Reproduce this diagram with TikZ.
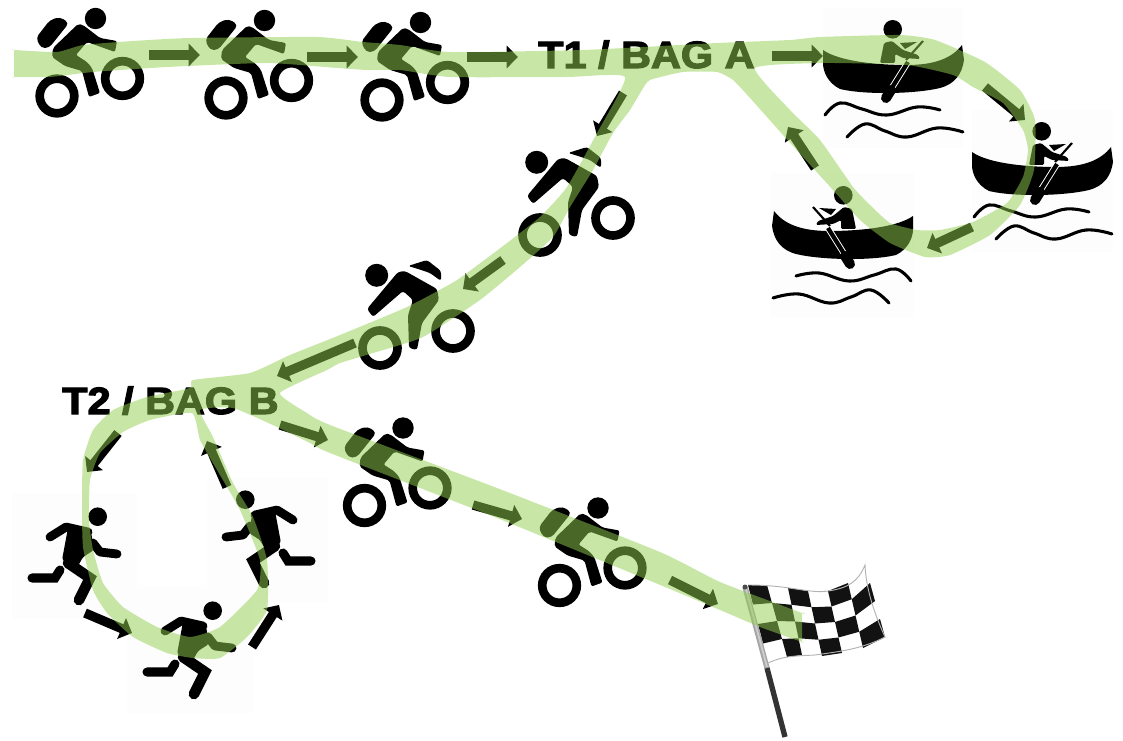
\documentclass[tikz,border=0pt]{standalone}
\usepackage{fontspec}
\setmainfont{Liberation Sans}
\usetikzlibrary{arrows.meta}
\definecolor{bandgreen}{RGB}{146,208,80}
\definecolor{faintbox}{RGB}{253,253,253}
\newfontfamily\labelfont[FakeBold=3]{Liberation Sans Bold}
\tikzset{
  band/.style={fill=bandgreen,fill opacity=.5,even odd rule},
  blockarrow/.style={line width=7pt,draw=black,-{Triangle[length=8.5pt,width=16.5pt]}},
  ring/.style={draw=black,line width=6.5pt},
  limb/.style={draw=black,line width=6.8pt,line cap=round,line join=round},
  limbthick/.style={draw=black,line width=8pt,line cap=round,line join=round},
  wave/.style={draw=black,line width=2.3pt,line cap=round},
  paddle/.style={draw=black,line width=3.2pt},
  labeltext/.style={anchor=base west,inner sep=0pt,text=black},
  faint/.style={fill=faintbox},
  biker/.pic={
    \fill (95.5,18.5) circle[radius=10.7];
    \fill[rounded corners=3pt] (36,38)--(50,20)--(60,17)--(69,23)--(49,48)--(41,48)--cycle;
    \fill[rounded corners=1.5pt] (78,24)--(53,48)--(52,57)--(65,66)--(82,71)--(89,97)--(100,93)--(92,68)--(87,62)--(76,55)--(87,42)--(115,52)--(117,41)--(100,38)--(83,25)--cycle;
    \draw[ring] (57,96) circle[radius=17.3];
    \draw[ring] (122.5,78.5) circle[radius=17.3];
  },
  leanbiker/.pic={
    \fill (536.7,162.3) circle[radius=11.5];
    \fill[rounded corners=2pt] (568,153)--(587,147)--(601,158)--(601,168)--(590,160)--(575,155)--cycle;
    \fill[rounded corners=2pt] (558,159)--(527,196)--(533,204)--(563,178)--(573,187)--(568,202)--(569,235)--(577,237)--(582,210)--(599,187)--(597,176)--(565,158)--cycle;
    \draw[ring] (540,235) circle[radius=17.5];
    \draw[ring] (613,218) circle[radius=17.5];
  },
  canoe/.pic={
    \fill (892.7,29.3) circle[radius=9.3];
    \fill[rounded corners=1pt] (880,63)--(884,43)--(892,41)--(903,50)--(918,55)--(920,59)--(903,58)--(895,54)--(895,63)--cycle;
    \fill (900,43)--(917,42)--(905,49)--cycle;
    \draw[paddle,line width=1.6pt] (923,41)--(906,60);
    \fill (823,50) .. controls (840,62) and (880,65) .. (907,65) .. controls (935,65) and (952,58) .. (962,45)
      -- (964,60) .. controls (962,74) and (955,84) .. (940,88) .. controls (915,94) and (865,95) .. (840,89)
      .. controls (828,83) and (823,72) .. (823,63) -- cycle;
    \draw[white,line width=4.6pt] (908,62)--(888,94);
    \draw[paddle] (908,62)--(888,94);
    \draw[black,line width=7.5pt,line cap=round] (891,90)--(886,98);
    \draw[wave] plot[smooth,tension=.7] coordinates {(825,115) (840,103) (862,109) (887,115) (917,107) (940,110)};
    \draw[wave] plot[smooth,tension=.7] coordinates {(847,137) (865,124) (885,131) (907,137) (937,128) (963,132)};
  },
  runner/.pic={
    \fill (97.7,516.7) circle[radius=9.3];
    \draw[limb,line width=6.6pt] (50,537)--(66,527)--(88,532);
    \draw[limb,line width=6.6pt] (93,543)--(100,552)--(117,554);
    \fill[rounded corners=2pt] (68,528)--(91,532)--(94,550)--(83,557)--(78,566)--(62,560)--cycle;
    \draw[limbthick,line join=miter] (68,563)--(90,578)--(79,600);
    \draw[limb,line join=miter] (60,570)--(55,578)--(32,578);
  }
}
\begin{document}
\begin{tikzpicture}[x=0.75pt,y=-0.75pt]
\useasboundingbox (0,0) rectangle (1123,741);

% faint image backgrounds
\fill[faint] (823,8) rectangle (963,148);
\fill[faint] (972,110) rectangle (1113,252);
\fill[faint] (771,173) rectangle (914,318);
\fill[faint] (12,493) rectangle (137,619);
\fill[faint] (127,587) rectangle (253,713);
\fill[faint] (207,478) rectangle (328,602);

% bikers
\pic at (0,0) {biker};
\pic at (169,2) {biker};
\pic at (325,4) {biker};
\pic at (307.5,409.5) {biker};
\pic at (502.5,489.5) {biker};
\pic at (0,0) {leanbiker};
\pic at (-160,113) {leanbiker};

% canoes
\pic at (0,0) {canoe};
\pic at (149,102) {canoe};
\begin{scope}[shift={(1736,166)},xscale=-1]
  \pic[transform shape] at (0,0) {canoe};
\end{scope}

% runners
\pic at (0,0) {runner};
\pic at (115,94) {runner};
\begin{scope}[shift={(343,-17)},xscale=-1]
  \pic[transform shape] at (0,0) {runner};
\end{scope}

% flag
\def\tx{{748,767,788,808,828,848,865}}
\def\ty{{585,585,588,591,591,583,565}}
\def\bx{{768,787,802,822,842,863,885}}
\def\by{{663,657,655,656,653,648,637}}
\def\fp#1#2{({\tx[#1]+(\bx[#1]-\tx[#1])*(#2)/4},{\ty[#1]+(\by[#1]-\ty[#1])*(#2)/4})}
\foreach \i in {0,...,5}{
  \foreach \j in {0,...,3}{
    \pgfmathparse{int(mod(\i+\j,2))}
    \ifnum\pgfmathresult=0
      \fill[black!93] \fp{\i}{\j} -- \fp{\i+1}{\j} -- \fp{\i+1}{\j+1} -- \fp{\i}{\j+1} -- cycle;
    \fi
  }
}
\draw[black!30,line width=.7pt] (748,585) .. controls (790,585) and (810,594) .. (828,591) .. controls (848,588) and (858,582) .. (865,565)
  .. controls (866,590) and (875,615) .. (885,637) .. controls (860,650) and (835,652) .. (815,655) .. controls (800,656) and (785,655) .. (768,663);
\draw[black!35,line width=4pt] (745,587) -- (767,668);
\draw[white!80!black,line width=1.4pt] (746,589) -- (767,667);
\draw[black!80,line width=4pt] (767,668) -- (785,737);
\fill[black!70] (745,587) circle[radius=2.5];

% arrows
\foreach \n/\xa/\ya/\xb/\yb in {1/149/55/200/55,2/307/57/358/57,3/467/57/518/57,4/772/56/823/56,
  5/985/87/1025/120,6/972/227/927/248,7/815/168/788/127,8/623/93/597/136,9/503/260/463/289,
  10/355/343/277/376,11/280/425/328/440,12/473/505/522/519,13/670/580/718/604,
  14/118/433/87/472,15/85/613/132/633,16/252/647/279/605,17/227/487/207/441}{
  \coordinate (a\n s) at (\xa,\ya);
  \coordinate (a\n e) at (\xb,\yb);
  \draw[blockarrow] (a\n s) -- (a\n e);
}

% labels
\node[labeltext] (t1) at (538,68) {\labelfont\fontsize{28.5pt}{31pt}\selectfont\scalebox{1.09}[1]{T1 / BAG A}};
\node[labeltext] (t2) at (62,414) {\labelfont\fontsize{28.5pt}{31pt}\selectfont\scalebox{1.09}[1]{T2 / BAG B}};

% translucent band
\fill[band] plot[smooth cycle,tension=.3] coordinates {
 (14,50) (14,50) (57,52) (83,45) (133,41) (190,38) (317,37) (363,42) (400,45) (450,52) (583,50) (717,43) (790,40) (820,37)
 (900,35) (935,40) (985,62) (1020,90) (1035,120) (1034,170) (1020,205) (990,235) (950,255) (925,257)
 (890,243) (860,220) (833,190) (783,135) (750,98) (733,80) (717,72) (683,72) (650,80) (642,90) (630,110) (613,133)
 (593,170) (570,207) (553,237) (520,267) (480,300) (423,337) (373,353) (340,363) (327,370) (280,393)
 (307,413) (330,425) (497,488) (660,552) (720,582) (802,613) (802,613) (802,642) (802,642) (760,627) (720,610) (653,582) (497,518) (330,453)
 (310,443) (277,427) (233,408) (200,410) (213,437) (233,483) (253,517) (267,560) (267,610) (247,637) (220,658)
 (193,658) (167,653) (133,637) (107,613) (93,590) (83,547) (82,503) (83,460) (93,430) (113,410) (147,397)
 (190,388) (193,380) (250,373) (290,355) (340,335) (407,307) (457,280) (507,243) (540,217) (567,187) (597,133)
 (625,77) (567,77) (450,77) (400,70) (367,70) (337,68) (267,63) (167,67) (93,72) (50,77) (14,77) (14,77)}
 plot[smooth cycle,tension=.3] coordinates {
 (755,68) (823,63) (907,65) (953,75) (973,87) (1003,103) (1023,130) (1028,150) (1023,177) (1007,203) (973,222)
 (940,230) (917,230) (890,223) (870,205) (853,187) (820,140) (790,110)}
 plot[smooth cycle,tension=.3] coordinates {
 (192,413) (150,420) (123,432) (100,453) (90,480) (89,520) (93,550) (103,583) (123,607) (157,627) (190,637)
 (220,627) (257,590) (260,560) (240,510) (217,470) (200,440)};
\end{tikzpicture}
\end{document}
